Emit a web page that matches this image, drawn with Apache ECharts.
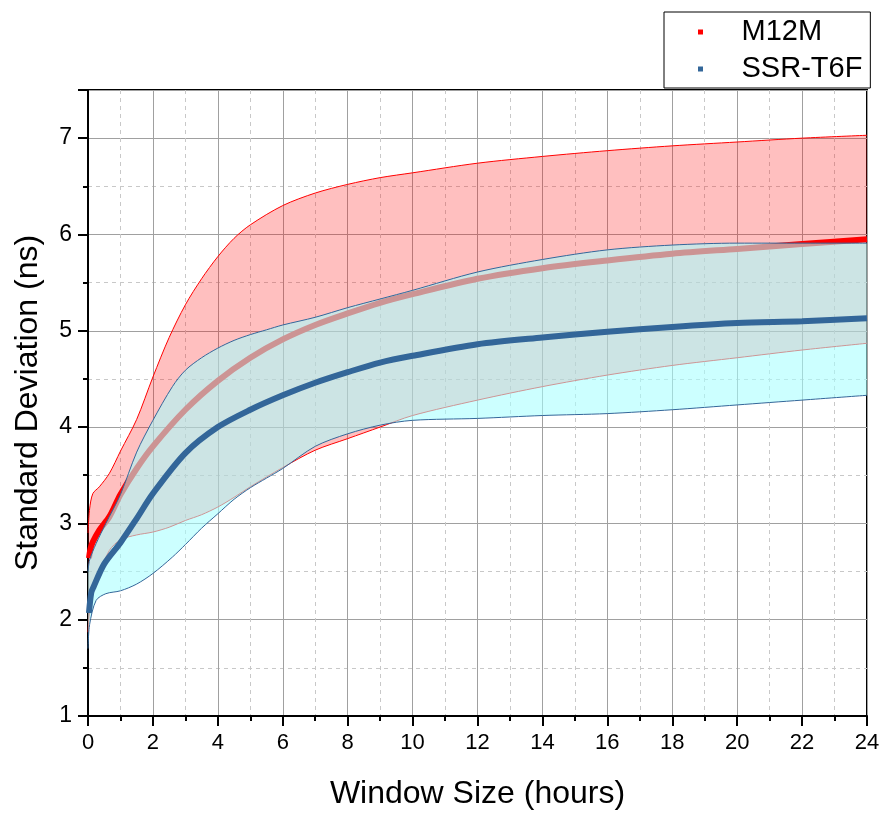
<!DOCTYPE html>
<html>
<head>
<meta charset="utf-8">
<script src="https://cdn.jsdelivr.net/npm/echarts@6/dist/echarts.min.js"></script>
<style>
  html, body { margin: 0; padding: 0; background: #fff; }
  #chart { width: 884px; height: 813px; }
</style>
</head>
<body>
<div id="chart"></div>
<script>
// M12M band (hours, ns)
const redX     = [0, 0.05, 0.15, 0.35, 0.66, 1, 1.5, 2, 2.5, 3, 3.5, 4, 4.5, 5, 6, 7, 8, 9, 10, 12, 14, 16, 18, 20, 22, 24];
const redUpper = [2.9, 3.15, 3.31, 3.38, 3.52, 3.75, 4.08, 4.52, 4.93, 5.27, 5.54, 5.77, 5.96, 6.1, 6.3, 6.43, 6.52, 6.59, 6.64, 6.74, 6.81, 6.87, 6.92, 6.96, 7.0, 7.03];
const redLower = [1.87, 2.1, 2.3, 2.48, 2.72, 2.83, 2.88, 2.91, 2.96, 3.03, 3.09, 3.17, 3.27, 3.38, 3.58, 3.76, 3.88, 4.0, 4.12, 4.28, 4.42, 4.54, 4.64, 4.72, 4.8, 4.87];

// SSR-T6F band
const blueX     = [0, 0.05, 0.25, 0.55, 1, 1.5, 2, 2.6, 3, 3.5, 4, 4.5, 5, 5.5, 6, 7, 8, 9, 10, 12, 14, 16, 18, 20, 22, 24];
const blueUpper = [2.5, 2.62, 2.79, 3.0, 3.3, 3.74, 4.07, 4.42, 4.59, 4.72, 4.82, 4.9, 4.96, 5.01, 5.06, 5.14, 5.24, 5.33, 5.42, 5.61, 5.74, 5.84, 5.89, 5.91, 5.91, 5.91];
const blueLower = [1.7, 1.95, 2.2, 2.27, 2.3, 2.37, 2.48, 2.65, 2.78, 2.95, 3.1, 3.25, 3.37, 3.47, 3.57, 3.8, 3.93, 4.02, 4.07, 4.09, 4.12, 4.14, 4.18, 4.23, 4.28, 4.33];

// mean curves
const redMeanX  = [0.03, 0.08, 0.15, 0.35, 0.66, 1, 1.5, 2, 3, 4, 5, 6, 7, 8, 9, 10, 12, 14, 16, 18, 20, 22, 24];
const redMean   = [2.64, 2.74, 2.81, 2.93, 3.07, 3.3, 3.57, 3.8, 4.18, 4.48, 4.72, 4.91, 5.06, 5.18, 5.29, 5.38, 5.54, 5.65, 5.73, 5.8, 5.85, 5.9, 5.95];
const blueMeanX = [0.03, 0.1, 0.17, 0.5, 1, 1.5, 2, 3, 4, 5, 6, 7, 8, 9, 10, 12, 14, 16, 18, 20, 22, 24];
const blueMean  = [2.07, 2.28, 2.34, 2.58, 2.8, 3.05, 3.31, 3.73, 4.0, 4.18, 4.33, 4.46, 4.57, 4.67, 4.74, 4.86, 4.93, 4.99, 5.04, 5.08, 5.1, 5.13];

const seriesNames = ['M12M', 'SSR-T6F'];

function zip(xs, ys) {
    return xs.map((x, i) => [x, ys[i]]);
}
// [y, x] order so the stack runs on the y value (encode maps it back)
function zipYX(xs, ys) {
    return xs.map((x, i) => [ys[i], x]);
}
function diff(up, low) {
    return up.map((v, i) => +(v - low[i]).toFixed(3));
}

const font = "Arial, 'Liberation Sans', sans-serif";
const red = '#ff0000';
const blue = '#336699';

const chart = echarts.init(document.getElementById('chart'));
chart.setOption({
    animation: false,
    grid: {
        left: 88, right: 17, top: 90, bottom: 97,
        show: true, borderColor: '#000', borderWidth: 2,
        outerBoundsMode: 'none'
    },
    legend: {
        data: seriesNames,
        orient: 'vertical',
        left: 664, top: 12,
        padding: [4, 8, 3, 34],
        itemGap: 5,
        itemWidth: 24, itemHeight: 5,
        icon: 'path://M0,0H1V1H0Z',
        borderColor: '#000', borderWidth: 1,
        backgroundColor: '#fff',
        textStyle: { fontFamily: font, fontSize: 29, color: '#000', lineHeight: 32, padding: [0, 0, 0, 24] }
    },
    xAxis: {
        type: 'value', min: 0, max: 24, interval: 2,
        name: 'Window Size (hours)', nameLocation: 'middle', nameGap: 62,
        nameTextStyle: { fontFamily: font, fontSize: 32, color: '#000' },
        axisLine: { lineStyle: { color: '#000', width: 2 } },
        axisTick: { length: 10, lineStyle: { color: '#000', width: 2 } },
        minorTick: { show: true, splitNumber: 2, length: 5, lineStyle: { color: '#000', width: 2 } },
        axisLabel: { fontFamily: font, fontSize: 22, color: '#000', margin: 16 },
        splitLine: { show: true, lineStyle: { color: '#a0a0a0', width: 1 } },
        minorSplitLine: { show: true, lineStyle: { color: '#c8c8c8', width: 1, type: [4, 4] } }
    },
    yAxis: {
        type: 'value', min: 1, max: 7.5, interval: 1,
        name: 'Standard Deviation (ns)', nameLocation: 'middle', nameGap: 44,
        nameTextStyle: { fontFamily: font, fontSize: 32, color: '#000' },
        axisLine: { lineStyle: { color: '#000', width: 2 } },
        axisTick: { length: 10, lineStyle: { color: '#000', width: 2 } },
        minorTick: { show: true, splitNumber: 2, length: 5, lineStyle: { color: '#000', width: 2 } },
        axisLabel: {
            fontFamily: font, fontSize: 23, color: '#000', margin: 16,
            formatter: v => (v % 1 === 0 ? String(v) : '')
        },
        splitLine: { show: true, lineStyle: { color: '#a0a0a0', width: 1 } },
        minorSplitLine: { show: true, lineStyle: { color: '#c8c8c8', width: 1, type: [4, 4] } }
    },
    series: [
        {
            name: 'M12M low', type: 'line', stack: 'm', data: zipYX(redX, redLower),
            encode: { x: 1, y: 0 },
            symbol: 'none', smooth: 0.3,
            lineStyle: { color: red, width: 1 }, itemStyle: { color: red }, z: 2
        },
        {
            name: 'M12M band', type: 'line', stack: 'm', data: zipYX(redX, diff(redUpper, redLower)),
            encode: { x: 1, y: 0 },
            symbol: 'none', smooth: 0.3,
            lineStyle: { color: red, width: 1 }, itemStyle: { color: red },
            areaStyle: { color: 'rgba(255,0,0,0.25)', opacity: 1 }, z: 2
        },
        {
            name: 'M12M', type: 'line', data: zip(redMeanX, redMean),
            symbol: 'none', smooth: 0.3,
            lineStyle: { color: red, width: 6 }, itemStyle: { color: red }, z: 2
        },
        {
            name: 'SSR-T6F low', type: 'line', stack: 'b', data: zipYX(blueX, blueLower),
            encode: { x: 1, y: 0 },
            symbol: 'none', smooth: 0.3,
            lineStyle: { color: blue, width: 1 }, itemStyle: { color: blue }, z: 4
        },
        {
            name: 'SSR-T6F band', type: 'line', stack: 'b', data: zipYX(blueX, diff(blueUpper, blueLower)),
            encode: { x: 1, y: 0 },
            symbol: 'none', smooth: 0.3,
            lineStyle: { color: blue, width: 1 }, itemStyle: { color: blue },
            areaStyle: { color: 'rgba(167,255,255,0.58)', opacity: 1 }, z: 3
        },
        {
            name: 'SSR-T6F', type: 'line', data: zip(blueMeanX, blueMean),
            symbol: 'none', smooth: 0.3,
            lineStyle: { color: blue, width: 6 }, itemStyle: { color: blue }, z: 5
        }
    ]
});
</script>
</body>
</html>
